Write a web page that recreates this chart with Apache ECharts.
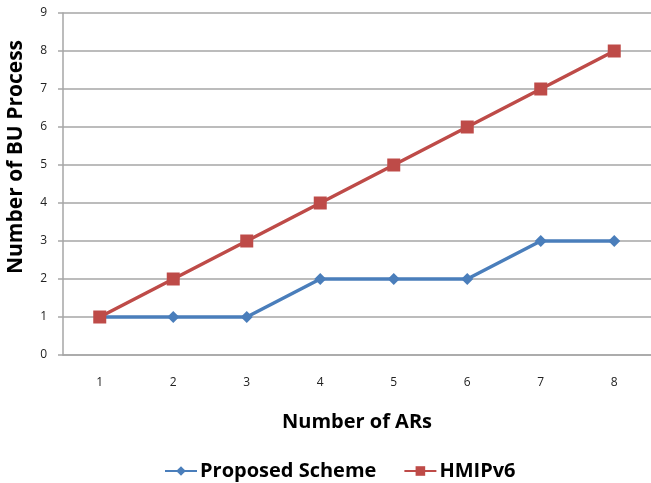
<!DOCTYPE html>
<html>
<head>
<meta charset="utf-8">
<style>
  html, body { margin: 0; padding: 0; background: #fff; }
  #chart { width: 651px; height: 483px; }
</style>
<script src="https://cdn.jsdelivr.net/npm/echarts@6/dist/echarts.min.js"></script>
</head>
<body>
<div id="chart"></div>
<script>
// Number of access routers on the x axis
const arCounts = ['1', '2', '3', '4', '5', '6', '7', '8'];
// Binding-update processes per scheme
const proposedScheme = [1, 1, 1, 2, 2, 2, 3, 3];
const hmipv6 = [1, 2, 3, 4, 5, 6, 7, 8];

const chart = echarts.init(document.getElementById('chart'));
const fontFamily = '"Open Sans", "Liberation Sans", sans-serif';
const gridGray = '#a6a6a6';

chart.setOption({
  animation: false,
  grid: { left: 63, right: 0, top: 13, bottom: 128, outerBoundsMode: 'none', containLabel: false },
  xAxis: {
    type: 'category',
    data: arCounts,
    boundaryGap: true,
    name: 'Number of ARs',
    nameLocation: 'middle',
    nameGap: 57,
    nameTextStyle: { fontFamily, fontSize: 20, fontWeight: 'bold', color: '#000' },
    axisLine: { lineStyle: { color: gridGray, width: 1.5 } },
    axisTick: { show: false },
    axisLabel: { fontFamily, fontSize: 12, color: '#222', margin: 22 }
  },
  yAxis: {
    type: 'value',
    min: 0,
    max: 9,
    interval: 1,
    name: 'Number of BU Process',
    nameLocation: 'middle',
    nameGap: 36,
    nameTextStyle: {
      fontFamily, fontSize: 21, fontWeight: 'bold', color: '#000',
      padding: [0, 0, 0, 54]
    },
    axisLine: { show: true, lineStyle: { color: gridGray, width: 1.5 } },
    axisTick: { show: true, length: 5, lineStyle: { color: gridGray, width: 1.5 } },
    axisLabel: { fontFamily, fontSize: 12, color: '#222', margin: 16 },
    splitLine: { lineStyle: { color: gridGray, width: 1.5 } }
  },
  legend: {
    top: 456,
    left: 159,
    itemGap: 27,
    itemWidth: 32,
    itemHeight: 12,
    textStyle: { fontFamily, fontSize: 20, fontWeight: 'bold', color: '#000', padding: [0, 0, 0, -2] },
    data: ['Proposed Scheme', 'HMIPv6']
  },
  series: [
    {
      name: 'Proposed Scheme',
      type: 'line',
      data: proposedScheme,
      symbol: 'diamond',
      symbolSize: 12,
      lineStyle: { color: '#4a7ebb', width: 3.5 },
      itemStyle: { color: '#4a7ebb' },
      z: 2
    },
    {
      name: 'HMIPv6',
      type: 'line',
      data: hmipv6,
      symbol: 'rect',
      symbolSize: 13,
      lineStyle: { color: '#be4b48', width: 3.5 },
      itemStyle: { color: '#be4b48' },
      z: 3
    }
  ]
});
</script>
</body>
</html>
